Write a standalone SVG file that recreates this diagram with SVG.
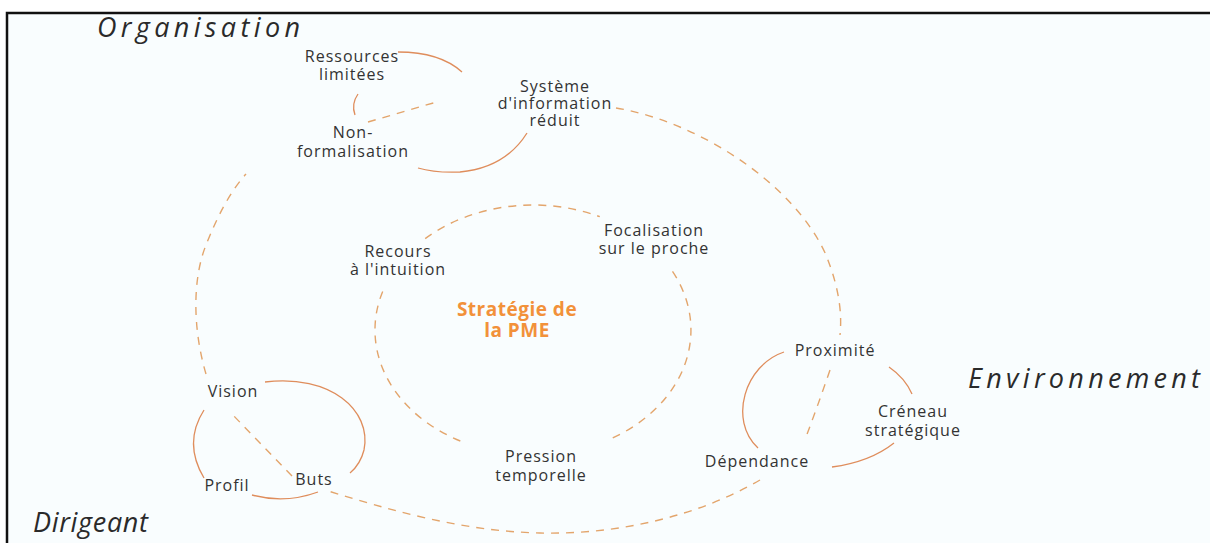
<svg xmlns="http://www.w3.org/2000/svg" width="1210" height="543" viewBox="0 0 1210 543">
  <style>
    .lbl { font-family: "Open Sans", "DejaVu Sans", sans-serif; font-size: 16px; fill: #333333; text-anchor: middle; letter-spacing: 1px; }
    .cat { font-family: "Open Sans", "DejaVu Sans", sans-serif; font-size: 27px; font-style: italic; fill: #2a2a2a; }
    .core { font-family: "Open Sans", "DejaVu Sans", sans-serif; font-size: 19px; font-weight: bold; fill: #f2913a; text-anchor: middle; letter-spacing: 0.5px; }
    .dash { fill: none; stroke: #e3a56c; stroke-width: 1.4; stroke-dasharray: 8 7; }
    .solid { fill: none; stroke: #df8d5c; stroke-width: 1.3; }
  </style>

  <!-- frame -->
  <rect x="0" y="0" width="1210" height="543" fill="#ffffff"/>
  <rect x="7" y="13" width="1203" height="530" fill="#f9fdfe"/>
  <path d="M7,543 V13 H1210" fill="none" stroke="#111" stroke-width="2.5"/>

  <!-- connectors -->
  <g id="connectors">
    <!-- outer loop linking the three clusters -->
    <path class="dash" d="M368,122 L440,101"/>
    <path class="dash" d="M616,108 C700,122 795,185 826,255 C840,290 842,315 840,335"/>
    <path class="dash" d="M830,370 Q818,405 806,437"/>
    <path class="dash" d="M760,480 C700,515 620,535 540,533 C460,531 390,510 325,490"/>
    <path class="dash" d="M292,476 L230,412"/>
    <path class="dash" d="M206,374 C193,330 192,280 206,245 C218,215 230,192 246,174"/>
    <!-- inner loop around the strategy -->
    <path class="dash" d="M425.2,238.6 A158,125 0 0 1 599.8,216.7"/>
    <path class="dash" d="M672.5,271.4 A158,125 0 0 1 607.1,440.4"/>
    <path class="dash" d="M382.7,291.4 A158,125 0 0 0 461.3,441.4"/>
    <!-- organisation links -->
    <path class="solid" d="M398,52 Q440,52 462,72"/>
    <path class="solid" d="M358,94 Q351,104 355,115"/>
    <path class="solid" d="M527,133 Q505,168 460,172 Q435,173 418,168"/>
    <!-- dirigeant links -->
    <path class="solid" d="M265,382 C330,374 372,410 364,450 C361,462 356,468 350,473"/>
    <path class="solid" d="M204,410 Q183,443 204,478"/>
    <path class="solid" d="M252,495 Q285,504 318,492"/>
    <!-- environnement links -->
    <path class="solid" d="M784,352 C745,365 728,420 758,448"/>
    <path class="solid" d="M889,367 Q905,378 912,394"/>
    <path class="solid" d="M832,467 Q870,462 894,443"/>
  </g>

  <!-- category titles -->
  <g id="title-organisation"><text class="cat" x="97" y="37" textLength="203">Organisation</text></g>
  <g id="title-environnement"><text class="cat" x="968" y="388" textLength="232">Environnement</text></g>
  <g id="title-dirigeant"><text class="cat" x="33" y="532" textLength="115">Dirigeant</text></g>

  <!-- organisation nodes -->
  <g id="node-ressources"><text class="lbl" x="352" y="62"><tspan x="352">Ressources</tspan><tspan x="352" dy="18">limitées</tspan></text></g>
  <g id="node-systeme"><text class="lbl" x="555" y="92"><tspan x="555">Système</tspan><tspan x="555" dy="17">d'information</tspan><tspan x="555" dy="17">réduit</tspan></text></g>
  <g id="node-nonformalisation"><text class="lbl" x="353" y="138"><tspan x="353">Non-</tspan><tspan x="353" dy="19">formalisation</tspan></text></g>

  <!-- strategy core -->
  <g id="node-focalisation"><text class="lbl" x="654" y="236"><tspan x="654">Focalisation</tspan><tspan x="654" dy="18">sur le proche</tspan></text></g>
  <g id="node-recours"><text class="lbl" x="398" y="257"><tspan x="398">Recours</tspan><tspan x="398" dy="18">à l'intuition</tspan></text></g>
  <g id="node-strategie"><text class="core" x="517" y="316"><tspan x="517">Stratégie de</tspan><tspan x="517" dy="21">la PME</tspan></text></g>
  <g id="node-pression"><text class="lbl" x="541" y="462"><tspan x="541">Pression</tspan><tspan x="541" dy="19">temporelle</tspan></text></g>

  <!-- environnement nodes -->
  <g id="node-proximite"><text class="lbl" x="835" y="356">Proximité</text></g>
  <g id="node-creneau"><text class="lbl" x="913" y="417"><tspan x="913">Créneau</tspan><tspan x="913" dy="19">stratégique</tspan></text></g>
  <g id="node-dependance"><text class="lbl" x="757" y="467">Dépendance</text></g>

  <!-- dirigeant nodes -->
  <g id="node-vision"><text class="lbl" x="233" y="397">Vision</text></g>
  <g id="node-profil"><text class="lbl" x="227" y="491">Profil</text></g>
  <g id="node-buts"><text class="lbl" x="314" y="485">Buts</text></g>
</svg>
